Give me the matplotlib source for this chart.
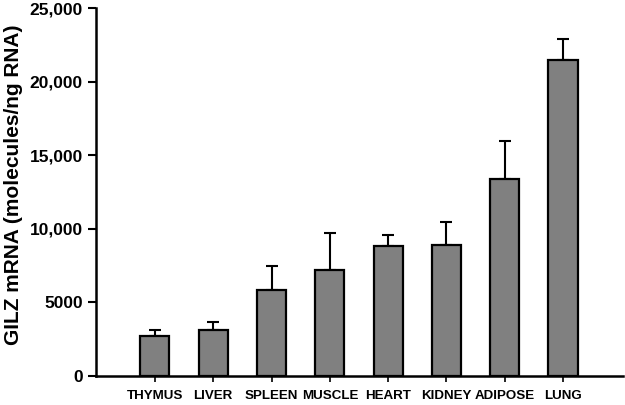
import matplotlib
matplotlib.use("Agg")
import matplotlib.pyplot as plt
import numpy as np

categories = ["THYMUS", "LIVER", "SPLEEN", "MUSCLE", "HEART", "KIDNEY", "ADIPOSE", "LUNG"]
values = [2740, 3130, 5840, 7200, 8850, 8900, 13380, 21450]
errors = [360, 540, 1630, 2500, 730, 1560, 2610, 1470]
yticks = [0, 5000, 10000, 15000, 20000, 25000]
ytick_labels = ["0", "5000", "10,000", "15,000", "20,000", "25,000"]

plt.rcParams['font.family'] = ['Liberation Sans', 'DejaVu Sans']
plt.rcParams['font.weight'] = 'bold'

fig = plt.figure(figsize=(6.25, 4.05), dpi=100)
ax = fig.add_axes([0.1536, 0.0716, 0.8434, 0.9084])

x = np.arange(len(categories))
ax.bar(x, values, width=0.5, color="#808080", edgecolor="black", linewidth=1.6, zorder=2)
ax.errorbar(x, values, yerr=[np.zeros(len(errors)), errors], fmt="none",
            ecolor="black", elinewidth=1.5, capsize=4, capthick=1.5, zorder=1)

ax.set_xlim(-1.01, 8.03)
ax.set_ylim(0, 25000)
ax.set_xticks(x)
ax.set_xticklabels(categories, fontsize=9.6, fontweight='bold')
ax.set_yticks(yticks)
ax.set_yticklabels(ytick_labels, fontsize=12.5, fontweight='bold')
ax.set_ylabel("GILZ mRNA (molecules/ng RNA)", fontsize=15, fontweight='bold')
ax.yaxis.set_label_coords(-0.138, 0.52)

for s in ["top", "right"]:
    ax.spines[s].set_visible(False)
for s in ["left", "bottom"]:
    ax.spines[s].set_linewidth(1.8)
ax.tick_params(axis='y', direction='out', length=6, width=1.5)
ax.tick_params(axis='x', direction='out', length=4, width=1.2, pad=6)

fig.savefig("out.png", dpi=100)
